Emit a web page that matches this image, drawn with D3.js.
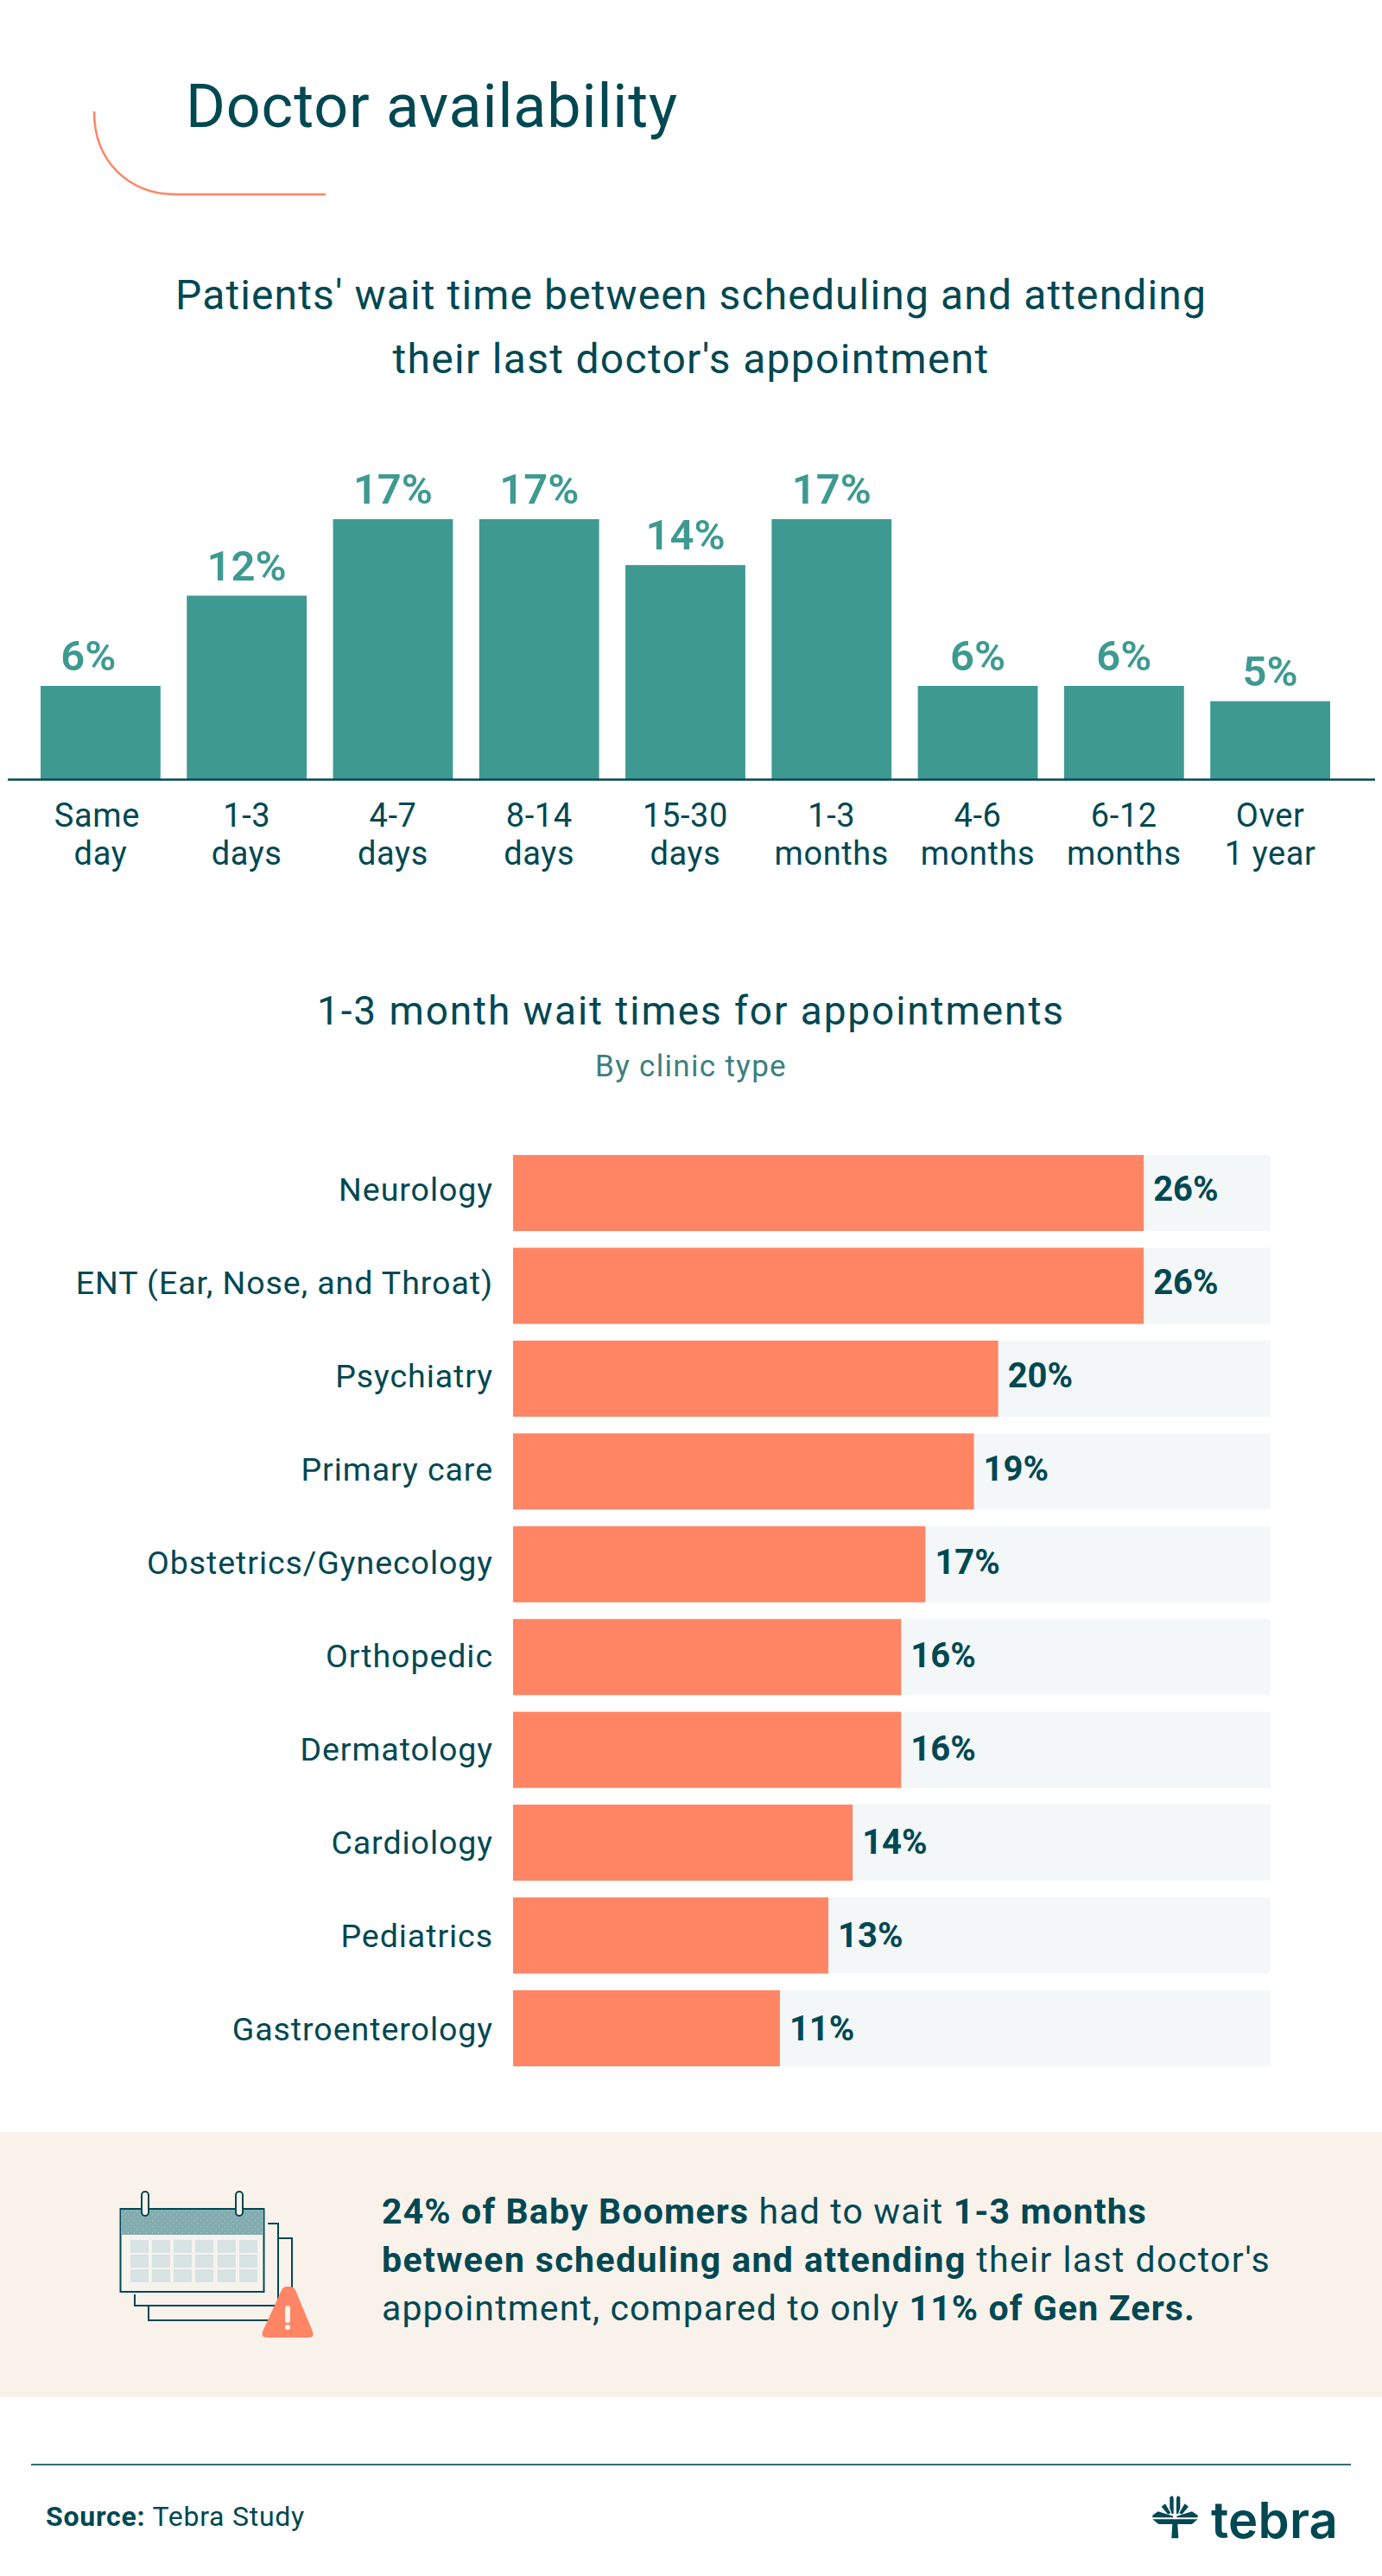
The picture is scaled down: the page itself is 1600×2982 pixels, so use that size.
<!DOCTYPE html>
<html>
<head>
<meta charset="utf-8">
<title>Doctor availability</title>
<script src="https://cdnjs.cloudflare.com/ajax/libs/d3/7.8.5/d3.min.js"></script>
<style>
html,body{margin:0;padding:0;background:#fff}
svg{display:block}
text{font-family:Roboto,"Open Sans",sans-serif;fill:#004852}
</style>
</head>
<body>
<script>
const waitCategories = [["Same","day"],["1-3","days"],["4-7","days"],["8-14","days"],["15-30","days"],["1-3","months"],["4-6","months"],["6-12","months"],["Over","1 year"]];
const waitValues = [6.1,12,17,17,14,17,6.1,6.1,5.1];
const clinicTypes = ["Neurology","ENT (Ear, Nose, and Throat)","Psychiatry","Primary care","Obstetrics/Gynecology","Orthopedic","Dermatology","Cardiology","Pediatrics","Gastroenterology"];
const clinicValues = [26,26,20,19,17,16,16,14,13,11];

const DARK="#004852", TEAL="#3e9a91", CORAL="#ff8565", TRACK="#f3f7f8", CREAM="#f9f2eb";
const svg=d3.select("body").append("svg").attr("width",1600).attr("height",2982);

function fit(t,w){
  const n=t.node(); const len=n.getComputedTextLength(); const chars=n.textContent.length;
  t.style("letter-spacing",((w-len)/(chars))+"px"); return t;
}
function label(x,y,str,size,w,opts={}){
  const t=svg.append("text").attr("x",x).attr("y",y).attr("font-size",size)
    .attr("text-anchor",opts.anchor||"middle").attr("font-weight",opts.weight||400)
    .style("fill",opts.fill||DARK).text(str);
  if(w) fit(t,w);
  return t;
}

svg.append("path").attr("d","M109 129C109 188 150 225 204 225L377 225").attr("fill","none").attr("stroke",CORAL).attr("stroke-width",2.5);
label(215,147,"Doctor availability",70,570,{anchor:"start"});
label(800,358,"Patients' wait time between scheduling and attending",48,1194);
label(800,432,"their last doctor's appointment",48,691);

const xW=d3.scaleBand().domain(d3.range(waitValues.length)).range([47,1540]).paddingInner(0.18).paddingOuter(0);
const yW=d3.scaleLinear().domain([0,17]).range([902,601]);
svg.append("g").selectAll("rect").data(waitValues).join("rect")
  .attr("x",(d,i)=>xW(i)).attr("width",xW.bandwidth()).attr("y",d=>yW(d)).attr("height",d=>yW(0)-yW(d)).attr("fill",TEAL);
svg.append("g").selectAll("text").data(waitValues).join("text")
  .attr("x",(d,i)=>xW(i)+xW.bandwidth()/2-(i===0?14:0)).attr("y",d=>yW(d)-18).attr("text-anchor","middle")
  .attr("font-size",49).attr("font-weight",600).style("fill",TEAL).text(d=>Math.round(d)+"%");
const axisW=svg.append("g").attr("transform","translate(0,902)").call(d3.axisBottom(xW).tickSize(0).tickFormat(""));
axisW.select(".domain").attr("d","M9 0.5H1592").attr("stroke",DARK).attr("stroke-width",2.5);
axisW.selectAll(".tick text").each(function(d){
  const sel=d3.select(this).attr("y",null).attr("dy",null).attr("font-size",38).attr("font-family",null).style("fill",DARK);
  waitCategories[d].forEach((ln,k)=>sel.append("tspan").attr("x",(d===0&&k===0)?-4:0).attr("y",k?98.5:54.5).style("letter-spacing","0.6px").text(ln));
});

label(800,1186,"1-3 month wait times for appointments",46,866);
label(800,1246,"By clinic type",35,222,{fill:"#3d7f80"});

const xC=d3.scaleLinear().domain([0,31.23]).range([594,1471]);
const yC=d3.scaleBand().domain(clinicTypes).range([1337,2392]).paddingInner(0.18).paddingOuter(0);
svg.append("g").selectAll("rect").data(clinicTypes).join("rect")
  .attr("x",xC(0)).attr("width",xC.range()[1]-xC(0)).attr("y",d=>yC(d)).attr("height",yC.bandwidth()).attr("fill",TRACK);
svg.append("g").selectAll("rect").data(clinicValues).join("rect")
  .attr("x",xC(0)).attr("width",d=>xC(d)-xC(0)).attr("y",(d,i)=>yC(clinicTypes[i])).attr("height",yC.bandwidth()).attr("fill",CORAL);
svg.append("g").selectAll("text").data(clinicValues).join("text")
  .attr("x",d=>xC(d)+11).attr("y",(d,i)=>yC(clinicTypes[i])+yC.bandwidth()/2+9+0.55*i).attr("font-size",40).attr("font-weight",700)
  .text(d=>d+"%");
const axisC=svg.append("g").attr("transform","translate(594,0)").call(d3.axisLeft(yC).tickSize(0).tickPadding(23));
axisC.select(".domain").remove();
axisC.selectAll(".tick text").attr("font-size",37.5).attr("font-family",null).attr("dy",null).attr("y",(d,i)=>9+0.55*i).style("fill",DARK).style("letter-spacing","0.95px");

svg.append("rect").attr("x",0).attr("y",2468).attr("width",1600).attr("height",307).attr("fill",CREAM);
const defs=svg.append("defs");
const pat=defs.append("pattern").attr("id","dots").attr("width",7).attr("height",7).attr("patternUnits","userSpaceOnUse");
pat.append("rect").attr("width",7).attr("height",7).attr("fill","#82acaf");
pat.append("circle").attr("cx",1.5).attr("cy",1.5).attr("r",.5).attr("fill","#c9dcdc");
pat.append("circle").attr("cx",5).attr("cy",5).attr("r",.5).attr("fill","#c9dcdc");
const ic=svg.append("g");
ic.append("path").attr("d","M310 2574H322V2669H156V2656").attr("fill","none").attr("stroke",DARK).attr("stroke-width",2);
ic.append("path").attr("d","M323 2591H338V2686H172V2670").attr("fill","none").attr("stroke",DARK).attr("stroke-width",2);
ic.append("rect").attr("x",139.5).attr("y",2557).attr("width",166).attr("height",96).attr("fill","#f6f3ee").attr("stroke",DARK).attr("stroke-width",2);
ic.append("rect").attr("x",140).attr("y",2558).attr("width",165).attr("height",29).attr("fill","url(#dots)");
const cols=[151,176,201,226,252,277], rows=[2593,2610,2627];
rows.forEach(r=>cols.forEach(c=>ic.append("rect").attr("x",c).attr("y",r).attr("width",21).attr("height",15).attr("fill","#d8e3e3")));
[164,273].forEach(x=>ic.append("rect").attr("x",x).attr("y",2537).attr("width",8).attr("height",28).attr("rx",4).attr("fill",CREAM).attr("stroke",DARK).attr("stroke-width",2));
ic.append("path").attr("d","M332 2647Q332 2647 336 2647Q339 2647 342 2651L362 2699Q364 2706 358 2706H308Q302 2706 304 2699L326 2651Q328 2647 332 2647Z").attr("fill",CORAL);
ic.append("rect").attr("x",330).attr("y",2669).attr("width",6).attr("height",20).attr("rx",3).attr("fill","#fdf3ee");
ic.append("circle").attr("cx",333).attr("cy",2694).attr("r",3).attr("fill","#fdf3ee");

function rich(y,parts,w){
  const t=svg.append("text").attr("x",442).attr("y",y).attr("font-size",41);
  parts.forEach(([s,b])=>t.append("tspan").attr("font-weight",b?700:400).text(s));
  fit(t,w);
}
rich(2574,[["24% of Baby Boomers",1],[" had to wait ",0],["1-3 months",1]],886);
rich(2630,[["between scheduling and attending",1],[" their last doctor's",0]],1029);
rich(2686,[["appointment, compared to only ",0],["11% of Gen Zers.",1]],942);

svg.append("line").attr("x1",36).attr("x2",1564).attr("y1",2853).attr("y2",2853).attr("stroke","#2e6f75").attr("stroke-width",2);
const src=svg.append("text").attr("x",53).attr("y",2924).attr("font-size",32);
src.append("tspan").attr("font-weight",700).text("Source:");
src.append("tspan").text(" Tebra Study");
fit(src,300);

const lg=svg.append("g").attr("fill",DARK).attr("transform","translate(1300,2860) scale(0.3333)");
["M163 92L172 87L176 95V150H170L163 130Z","M199 92L190 87L186 95V150H192L199 130Z",
 "M134 125L147 115L166 147L157 152Z","M228 125L215 115L196 147L205 152Z",
 "M103 155L122 142L175 158V163H103Z","M260 155L240 142L187 158V163H260Z",
 "M103 169H260L240 186H124Z","M172 186H190L193 235H169Z"].forEach(d=>lg.append("path").attr("d",d));
const tb=svg.append("text").attr("x",1402).attr("y",2938).attr("font-size",58).attr("font-weight",600).style("font-family","Inter").text("tebra");
fit(tb,147);
</script>
</body>
</html>
